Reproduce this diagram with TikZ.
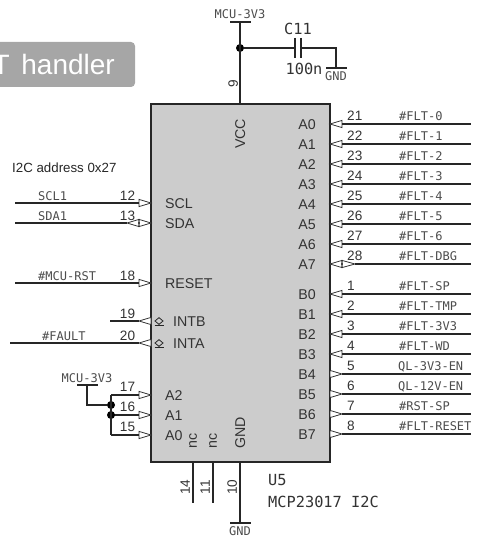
\documentclass[tikz,border=0pt]{standalone}
\usepackage{fontspec}
\setmainfont{Liberation Sans}
\newfontfamily\netfont{DejaVu Sans Mono}

\tikzset{
  wire/.style={line width=1.5pt, draw=black!85},
  pinmark/.style={line width=0.8pt, draw=black!80, fill=white},
  junction/.style={circle, fill=black, inner sep=0pt, minimum size=8pt},
  txt/.style={inner sep=0pt, text depth=0pt, text=black!80},
  pinname/.style={txt, text height=10.2pt, font=\fontsize{14.2}{16}\selectfont},
  pinnum/.style={txt, text height=9.7pt, font=\fontsize{13.6}{16}\selectfont},
  netname/.style={txt, text height=8.8pt, font=\netfont\fontsize{12}{14}\selectfont, text=black!70},
  partname/.style={txt, text height=11.2pt, font=\netfont\fontsize{15.3}{18}\selectfont},
}

\begin{document}
\begin{tikzpicture}[x=1pt, y=-1pt]

\def \xchipleft  {151}
\def \xchipright {330}
\def \ychiptop   {104}
\def \ychipbot   {462}
\def \xvcc       {240}
\def \xwireright {471}
\def \xleftnum   {127.5}
\def \xleftnet   {38}
\def \tri        {12}

\useasboundingbox (0,0) rectangle (478,540);

% banner
\begin{scope}
\clip (0,0) rectangle (478,540);
\fill [black!35, rounded corners=4pt] (-20,42) rectangle (135,87);
\node (banner) [anchor=base east, inner sep=0pt, text=white, font=\fontsize{28}{32}\selectfont] at (115,75) {T\hspace{0.42em}handler};
\end{scope}

% chip
\draw [fill=black!20, line width=2pt, draw=black!85] (\xchipleft, \ychiptop) rectangle (\xchipright, \ychipbot);
\node (vcc) [pinname, rotate=90] at (\xvcc, 134) {VCC};
\node (gnd) [pinname, rotate=90] at (\xvcc, 433) {GND};
\node (nca) [pinname, rotate=90, text height=7.5pt] at (193, 441) {nc};
\node (ncb) [pinname, rotate=90, text height=7.5pt] at (213, 441) {nc};

% port A and B inputs
\foreach \i/\num/\net in {0/21/{\#FLT-0}, 1/22/{\#FLT-1}, 2/23/{\#FLT-2}, 3/24/{\#FLT-3}, 4/25/{\#FLT-4}, 5/26/{\#FLT-5}, 6/27/{\#FLT-6}} {
  \coordinate (pa\i) at (\xchipright, {124+20*\i});
  \coordinate (ba\i) at (\xchipright+\tri, {124+20*\i});
  \coordinate (ea\i) at (\xwireright, {124+20*\i});
  \draw [pinmark] (pa\i) -- ([yshift=3.6pt]ba\i) -- ([yshift=-3.6pt]ba\i) -- cycle;
  \draw [wire] (ba\i) -- (ea\i);
  \node (numa\i) [pinnum, anchor=west] at (347, {116+20*\i}) {\num};
  \node (neta\i) [netname, anchor=west] at (399, {116+20*\i}) {\net};
  \node (namea\i) [pinname, anchor=east] at (316, {124+20*\i}) {A\i};
}
\foreach \i/\num/\net in {0/1/{\#FLT-SP}, 1/2/{\#FLT-TMP}, 2/3/{\#FLT-3V3}, 3/4/{\#FLT-WD}} {
  \coordinate (pb\i) at (\xchipright, {294+20*\i});
  \coordinate (bb\i) at (\xchipright+\tri, {294+20*\i});
  \coordinate (eb\i) at (\xwireright, {294+20*\i});
  \draw [pinmark] (pb\i) -- ([yshift=3.6pt]bb\i) -- ([yshift=-3.6pt]bb\i) -- cycle;
  \draw [wire] (bb\i) -- (eb\i);
  \node (numb\i) [pinnum, anchor=west] at (347, {286+20*\i}) {\num};
  \node (netb\i) [netname, anchor=west] at (399, {286+20*\i}) {\net};
  \node (nameb\i) [pinname, anchor=east] at (316, {294+20*\i}) {B\i};
}
% port B outputs
\foreach \i/\num/\net/\xnet in {4/5/{QL-3V3-EN}/398, 5/6/{QL-12V-EN}/398, 6/7/{\#RST-SP}/399, 7/8/{\#FLT-RESET}/399} {
  \coordinate (pb\i) at (\xchipright, {294+20*\i});
  \coordinate (bb\i) at (\xchipright+\tri, {294+20*\i});
  \coordinate (eb\i) at (\xwireright, {294+20*\i});
  \draw [pinmark] (bb\i) -- ([yshift=3.6pt]pb\i) -- ([yshift=-3.6pt]pb\i) -- cycle;
  \draw [wire] (bb\i) -- (eb\i);
  \node (numb\i) [pinnum, anchor=west] at (347, {286+20*\i}) {\num};
  \node (netb\i) [netname, anchor=west] at (\xnet, {286+20*\i}) {\net};
  \node (nameb\i) [pinname, anchor=east] at (316, {294+20*\i}) {B\i};
}
% A7 goes both ways
\coordinate (pa7) at (\xchipright, 264);
\coordinate (ba7) at (\xchipright+\tri, 264);
\coordinate (ca7) at (\xchipright+2*\tri+1, 264);
\coordinate (ea7) at (\xwireright, 264);
\draw [pinmark] (pa7) -- ([yshift=3.6pt]ba7) -- ([yshift=-3.6pt]ba7) -- cycle;
\draw [pinmark, fill=none] (ca7) -- ([yshift=3.6pt]ba7) -- ([yshift=-3.6pt]ba7) -- cycle;
\fill [black] (ba7) circle (0.9);
\draw [wire] (ca7) -- (ea7);
\node (numa7) [pinnum, anchor=west] at (347, 256) {28};
\node (neta7) [netname, anchor=west] at (399, 256) {\#FLT-DBG};
\node (namea7) [pinname, anchor=east] at (316, 264) {A7};

% I2C side
\node (addr) [txt, text height=9.6pt, anchor=west, text=black!85, font=\fontsize{13.3}{16}\selectfont] at (12, 168) {I2C address 0x27};
\foreach \id/\y/\num/\net/\name in {scl/203/12/{SCL1}/{SCL}, rst/283/18/{\#MCU-RST}/{RESET}} {
  \coordinate (p\id) at (\xchipleft, \y);
  \coordinate (b\id) at (\xchipleft-\tri, \y);
  \coordinate (e\id) at (15, \y);
  \draw [pinmark] (p\id) -- ([yshift=3.6pt]b\id) -- ([yshift=-3.6pt]b\id) -- cycle;
  \draw [wire] (b\id) -- (e\id);
  \node (num\id) [pinnum] at (\xleftnum, \y-7) {\num};
  \node (net\id) [netname, anchor=west] at (\xleftnet, \y-7) {\net};
  \node (name\id) [pinname, anchor=west] at (165, \y) {\name};
}
% SDA goes both ways
\coordinate (psda) at (\xchipleft, 223);
\coordinate (bsda) at (\xchipleft-\tri, 223);
\coordinate (csda) at (\xchipleft-2*\tri, 223);
\coordinate (esda) at (15, 223);
\draw [pinmark] (psda) -- ([yshift=3.6pt]bsda) -- ([yshift=-3.6pt]bsda) -- cycle;
\draw [pinmark, fill=none] (csda) -- ([yshift=3.6pt]bsda) -- ([yshift=-3.6pt]bsda) -- cycle;
\fill [black] (bsda) circle (0.9);
\draw [wire] (csda) -- (esda);
\node (numsda) [pinnum] at (\xleftnum, 216) {13};
\node (netsda) [netname, anchor=west] at (\xleftnet, 216) {SDA1};
\node (namesda) [pinname, anchor=west] at (165, 223) {SDA};

% interrupt outputs
\foreach \id/\y/\num/\xend/\name in {intb/321/19/110/{INTB}, inta/343/20/10/{INTA}} {
  \coordinate (p\id) at (\xchipleft, \y);
  \coordinate (b\id) at (\xchipleft-\tri, \y);
  \coordinate (e\id) at (\xend, \y);
  \draw [pinmark] (b\id) -- ([yshift=3.6pt]p\id) -- ([yshift=-3.6pt]p\id) -- cycle;
  \draw [wire] (b\id) -- (e\id);
  \draw [line width=0.8pt, draw=black!85] (159, \y-3.4) -- (163, \y) -- (159, \y+3.4) -- (155, \y) -- cycle;
  \draw [line width=0.9pt, draw=black!85] (154.5, \y+4.2) -- (163.5, \y+4.2);
  \node (num\id) [pinnum] at (\xleftnum, \y-7) {\num};
  \node (name\id) [pinname, anchor=west] at (173, \y) {\name};
}
\node (netfault) [netname, anchor=west] at (42, 336) {\#FAULT};

% address pins
\foreach \i/\y/\num in {2/395/17, 1/415/16, 0/435/15} {
  \coordinate (paddr\i) at (\xchipleft, \y);
  \coordinate (baddr\i) at (\xchipleft-\tri, \y);
  \node (jaddr\i) [inner sep=0pt] at (111, \y) {};
  \draw [pinmark] (paddr\i) -- ([yshift=3.6pt]baddr\i) -- ([yshift=-3.6pt]baddr\i) -- cycle;
  \draw [wire] (baddr\i) -- (jaddr\i.center);
  \node (numaddr\i) [pinnum] at (\xleftnum, \y-8) {\num};
  \node (nameaddr\i) [pinname, anchor=west] at (165, \y) {A\i};
}
\coordinate (barl) at (77, 385);
\coordinate (barr) at (98, 385);
\coordinate (barm) at (87, 385);
\node (dota) [junction] at (111, 405) {};
\node (dotb) [junction] at (111, 415) {};
\draw [wire] (jaddr2.center) -- (jaddr0.center);
\draw [wire] (barl) -- (barr);
\draw [wire] (barm) |- (dota);
\node (netaddr) [netname] at (87, 378) {MCU-3V3};

% supply and decoupling
\coordinate (vcctop) at (\xvcc, 22);
\coordinate (vccl) at (230, 22);
\coordinate (vccr) at (251, 22);
\coordinate (vccpin) at (\xvcc, \ychiptop);
\node (dotvcc) [junction] at (\xvcc, 48) {};
\draw [wire] (vccl) -- (vccr);
\draw [wire] (vcctop) -- (vccpin);
\node (netvcc) [netname] at (\xvcc, 14) {MCU-3V3};
\node (numvcc) [pinnum, rotate=90] at (233, 84) {9};

\coordinate (capa) at (295, 48);
\coordinate (capb) at (301, 48);
\coordinate (capend) at (336, 48);
\coordinate (capgnd) at (336, 68);
\draw [wire] (dotvcc) -- (capa);
\draw [wire] (capb) -- (capend) -- (capgnd);
\draw [wire] (295, 38) -- (295, 58);
\draw [wire] (301, 38) -- (301, 58);
\draw [wire] (326, 68) -- (347, 68);
\node (capname) [partname] at (298, 29) {C11};
\node (capval) [partname] at (304, 69) {100n};
\node (netcapgnd) [netname] at (336, 76.5) {GND};

% bottom pins
\foreach \id/\x/\yend/\num in {nca/193/503/14, ncb/213/503/11, gnd/240/523/10} {
  \coordinate (p\id) at (\x, \ychipbot);
  \coordinate (e\id) at (\x, \yend);
  \draw [wire] (p\id) -- (e\id);
  \node (num\id) [pinnum, rotate=90] at (\x-8, 487) {\num};
}
\draw [wire] (230, 523) -- (251, 523);
\node (netgnd) [netname] at (\xvcc, 531) {GND};

% part labels
\node (partref) [partname, anchor=west] at (268, 480) {U5};
\node (parttype) [partname, anchor=west] at (268, 502) {MCP23017 I2C};

\end{tikzpicture}
\end{document}
